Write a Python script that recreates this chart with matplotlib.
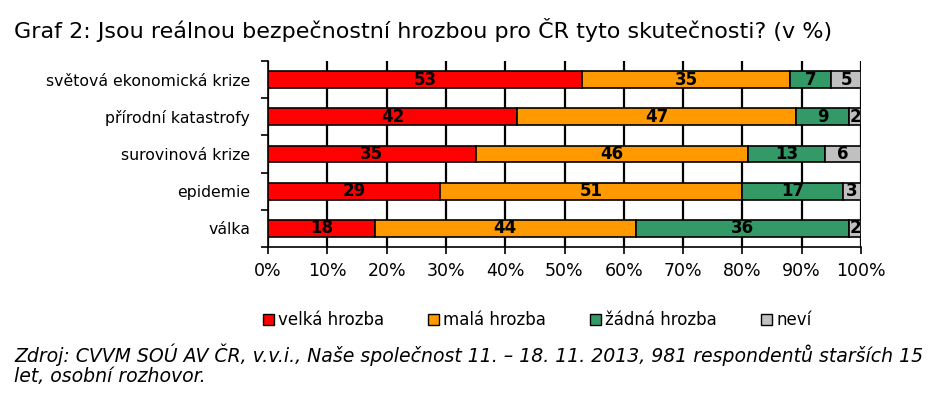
import matplotlib.pyplot as plt
import numpy as np
from matplotlib.patches import Patch

# data (top row first)
categories = ["světová ekonomická krize", "přírodní katastrofy", "surovinová krize", "epidemie", "válka"]
velka = [53, 42, 35, 29, 18]
mala = [35, 47, 46, 51, 44]
zadna = [7, 9, 13, 17, 36]
nevi = [5, 2, 6, 3, 2]
series_names = ["velká hrozba", "malá hrozba", "žádná hrozba", "neví"]
colors = ["#FF0000", "#FF9900", "#339966", "#C0C0C0"]

fig = plt.figure(figsize=(9.42, 3.98), dpi=100)
ax = fig.add_axes([268 / 942, 1 - 247 / 398, (861 - 268) / 942, (247 - 61) / 398])

y = np.arange(len(categories))[::-1]
left = np.zeros(len(categories))
for vals, col in zip([velka, mala, zadna, nevi], colors):
    vals = np.array(vals)
    ax.barh(y, vals, left=left, height=0.45, color=col, edgecolor="black", linewidth=1.2, zorder=3)
    for yi, l, v in zip(y, left, vals):
        ax.text(l + v / 2, yi, str(v), ha="center", va="center", fontsize=12,
                fontweight="bold", color="black", zorder=4)
    left = left + vals

ax.set_xlim(0, 100)
ax.set_ylim(-0.5, len(categories) - 0.5)
ax.set_xticks(np.arange(0, 101, 10))
ax.set_xticklabels([f"{v}%" for v in range(0, 101, 10)], fontsize=12.5)
ax.xaxis.grid(True, color="black", linewidth=1.6, zorder=0)
ax.set_axisbelow(True)

ax.set_yticks(y)
ax.set_yticklabels(categories, fontsize=11.3)
ax.tick_params(axis="y", length=0, pad=13)
ax.set_yticks(np.arange(-0.5, len(categories), 1), minor=True)
ax.tick_params(axis="y", which="minor", length=5, width=1.2)
ax.tick_params(axis="x", length=5, width=1.2, pad=6)

for s in ["top", "right"]:
    ax.spines[s].set_visible(False)
for s in ["left", "bottom"]:
    ax.spines[s].set_linewidth(1.2)

handles = [Patch(facecolor=c, edgecolor="black", label=n) for c, n in zip(colors, series_names)]
fig.legend(handles=handles, loc="center", bbox_to_anchor=(537 / 942, 1 - 320 / 398), ncol=4,
           frameon=False, fontsize=12, handlelength=0.65, handleheight=0.65, handletextpad=0.25,
           columnspacing=2.65, borderpad=0)

fig.text(14 / 942, 1 - 30 / 398, "Graf 2: Jsou reálnou bezpečnostní hrozbou pro ČR tyto skutečnosti? (v %)",
         fontsize=16, va="center", ha="left")
fig.text(14 / 942, 1 - 355 / 398,
         "Zdroj: CVVM SOÚ AV ČR, v.v.i., Naše společnost 11. – 18. 11. 2013, 981 respondentů starších 15",
         fontsize=13.6, style="italic", va="center", ha="left")
fig.text(14 / 942, 1 - 377 / 398, "let, osobní rozhovor.", fontsize=13.6, style="italic", va="center", ha="left")

fig.savefig("out.png", dpi=100)
